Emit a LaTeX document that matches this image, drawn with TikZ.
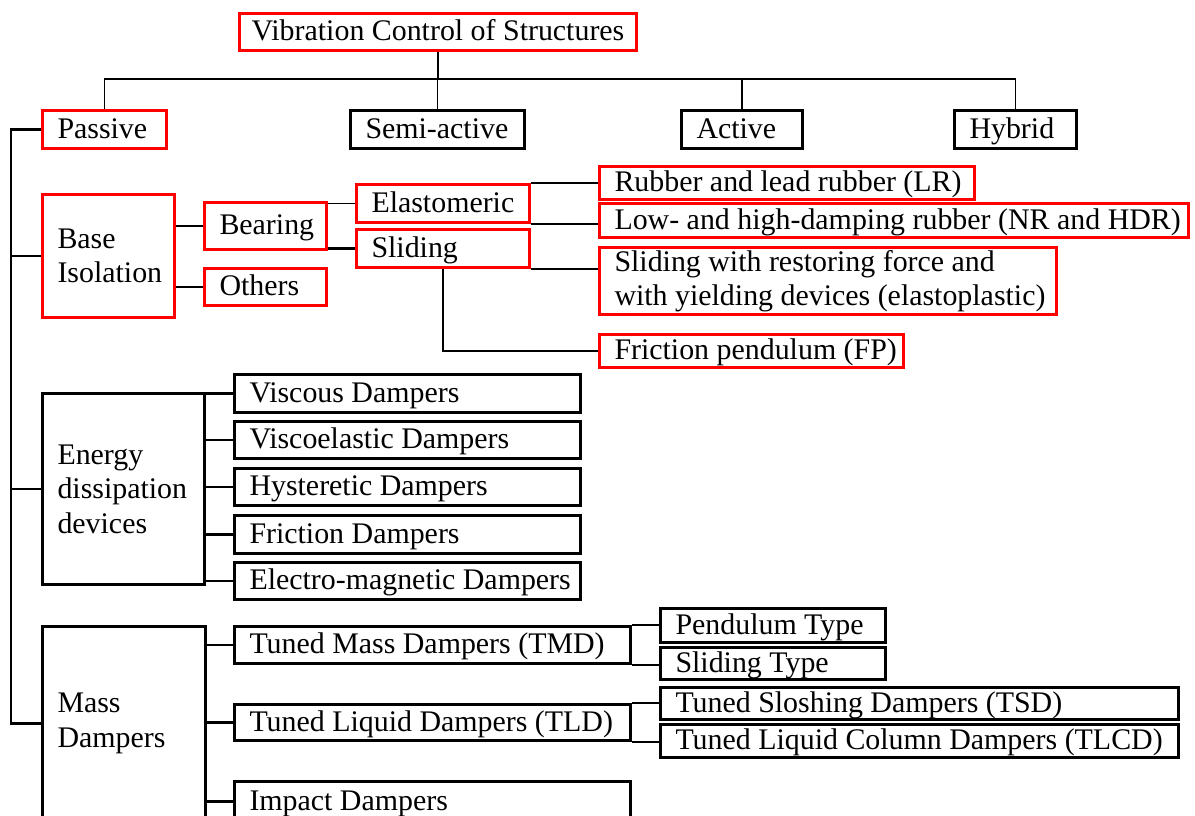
\documentclass[tikz,border=0pt]{standalone}
\usepackage{fontspec}
\setmainfont{Liberation Serif}
\usetikzlibrary{positioning,calc}
\tikzset{
  box/.style={draw, line width=3pt, anchor=north west, inner sep=0pt,
    align=flush left, font=\fontsize{29.9}{34.5}\selectfont,
    text height=21pt, text depth=4pt,
    execute at begin node={\leftskip=15pt}},
  redbox/.style={box, draw=red},
  multi/.style={text height=, text depth=},
  rootbox/.style={draw=red, line width=3pt, anchor=north west, inner sep=0pt,
    font=\fontsize{29.9}{34.5}\selectfont, text height=21pt, text depth=4pt},
  conn/.style={line width=1.6pt},
  heavy/.style={line width=2.6pt}
}

\begin{document}
\begin{tikzpicture}[x=1pt, y=-1pt]
  \useasboundingbox (0,0) rectangle (1195,816);

  % top level
  \node[rootbox, minimum width=397pt, minimum height=37pt] (root) at (238,12) {Vibration Control of Structures};
  \node[redbox, text width=124pt, minimum height=38pt] (passive) at (41,109) {Passive};
  \node[box, text width=174pt, minimum height=38pt] (semi) at (349,109) {Semi-active};
  \node[box, text width=121pt, minimum height=38pt] (active) at (680,109) {Active};
  \node[box, text width=122pt, minimum height=38pt] (hybrid) at (953,109) {Hybrid};

  \coordinate (bus) at (437,79);
  \coordinate (trunk) at (11,0);
  \draw[conn] (root.south) -- (root.south |- bus);
  \draw[conn] (passive.north) -- (passive.north |- bus) -- (hybrid.north |- bus) -- (hybrid.north);
  \draw[conn] (semi.north) -- (semi.north |- bus);
  \draw[conn] (active.north) -- (active.north |- bus);

  % base isolation
  \node[redbox, multi, text width=132pt, minimum height=123pt] (baseiso) at (41,193) {Base\\Isolation};
  \node[redbox, text width=122pt, minimum height=47pt] (bearing) at (203,201) {Bearing};
  \node[redbox, text width=122pt, minimum height=37pt] (others) at (203,267) {Others};
  \node[redbox, text width=173pt, minimum height=38pt] (elasto) at (355,183) {Elastomeric};
  \node[redbox, text width=173pt, minimum height=38pt] (sliding) at (355,228) {Sliding};
  \node[redbox, text width=375pt, minimum height=33pt] (rubLR) at (598,165) {Rubber and lead rubber (LR)};
  \node[redbox, text width=589pt, minimum height=34pt] (lowHD) at (598,202) {Low- and high-damping rubber (NR and HDR)};
  \node[redbox, multi, text width=457pt, minimum height=67pt] (slidRF) at (598,246) {Sliding with restoring force and\\with yielding devices (elastoplastic)};
  \node[redbox, text width=304pt, minimum height=33pt] (fricP) at (598,333) {Friction pendulum (FP)};

  \draw[conn] (baseiso.east |- bearing) -- (bearing);
  \draw[heavy] (baseiso.east |- others) -- (others);
  \draw[conn] (bearing.east |- elasto) -- (elasto);
  \draw[heavy] (bearing.east |- sliding) -- (sliding);
  \draw[conn] (elasto.east |- rubLR) -- (rubLR);
  \draw[heavy] (elasto.south east) -- (elasto.south east -| lowHD.west);
  \draw[conn] (sliding.south east) -- (sliding.south east -| slidRF.west);
  \draw[conn] (sliding.south) |- (fricP);

  % energy dissipation
  \node[box, multi, text width=162pt, minimum height=191pt] (energy) at (41,392) {Energy\\dissipation\\devices};
  \node[box, text width=346pt, minimum height=38pt] (viscous) at (233,373) {Viscous Dampers};
  \node[box, text width=346pt, minimum height=37pt] (viscoel) at (233,420) {Viscoelastic Dampers};
  \node[box, text width=346pt, minimum height=37pt] (hyster) at (233,467) {Hysteretic Dampers};
  \node[box, text width=346pt, minimum height=38pt] (friction) at (233,514) {Friction Dampers};
  \node[box, text width=346pt, minimum height=37pt] (electro) at (233,561) {Electro-magnetic Dampers};
  \foreach \d in {viscous,viscoel,hyster,friction,electro}
    \draw[heavy] (energy.east |- \d) -- (\d);

  % mass dampers
  \node[box, multi, text width=163pt, minimum height=194pt] (mass) at (41,625) {Mass\\Dampers};
  \node[box, text width=396pt, minimum height=37pt] (tmd) at (233,625) {Tuned Mass Dampers (TMD)};
  \node[box, text width=396pt, minimum height=36pt] (tld) at (233,703) {Tuned Liquid Dampers (TLD)};
  \node[box, text width=396pt, minimum height=40pt] (impact) at (233,780) {Impact Dampers};
  \node[box, text width=225pt, minimum height=34pt] (pendT) at (659,607) {Pendulum Type};
  \node[box, text width=225pt, minimum height=32pt] (slideT) at (659,646) {Sliding Type};
  \node[box, text width=518pt, minimum height=32pt] (tsd) at (659,686) {Tuned Sloshing Dampers (TSD)};
  \node[box, text width=518pt, minimum height=33pt] (tlcd) at (659,723) {Tuned Liquid Column Dampers (TLCD)};
  \foreach \d in {tmd,tld,impact}
    \draw[heavy] (mass.east |- \d) -- (\d);
  \draw[conn] (tmd.north east) -- (tmd.north east -| pendT.west);
  \draw[conn] (tmd.south east) -- (tmd.south east -| slideT.west);
  \draw[conn] (tld.north east) -- (tld.north east -| tsd.west);
  \draw[conn] (tld.south east) -- (tld.south east -| tlcd.west);

  % left trunk
  \draw[heavy] (passive.west) -- (passive.west -| trunk) |- (mass.west);
  \draw[heavy] (baseiso.west -| trunk) -- (baseiso.west);
  \draw[heavy] (energy.west -| trunk) -- (energy.west);
\end{tikzpicture}
\end{document}
